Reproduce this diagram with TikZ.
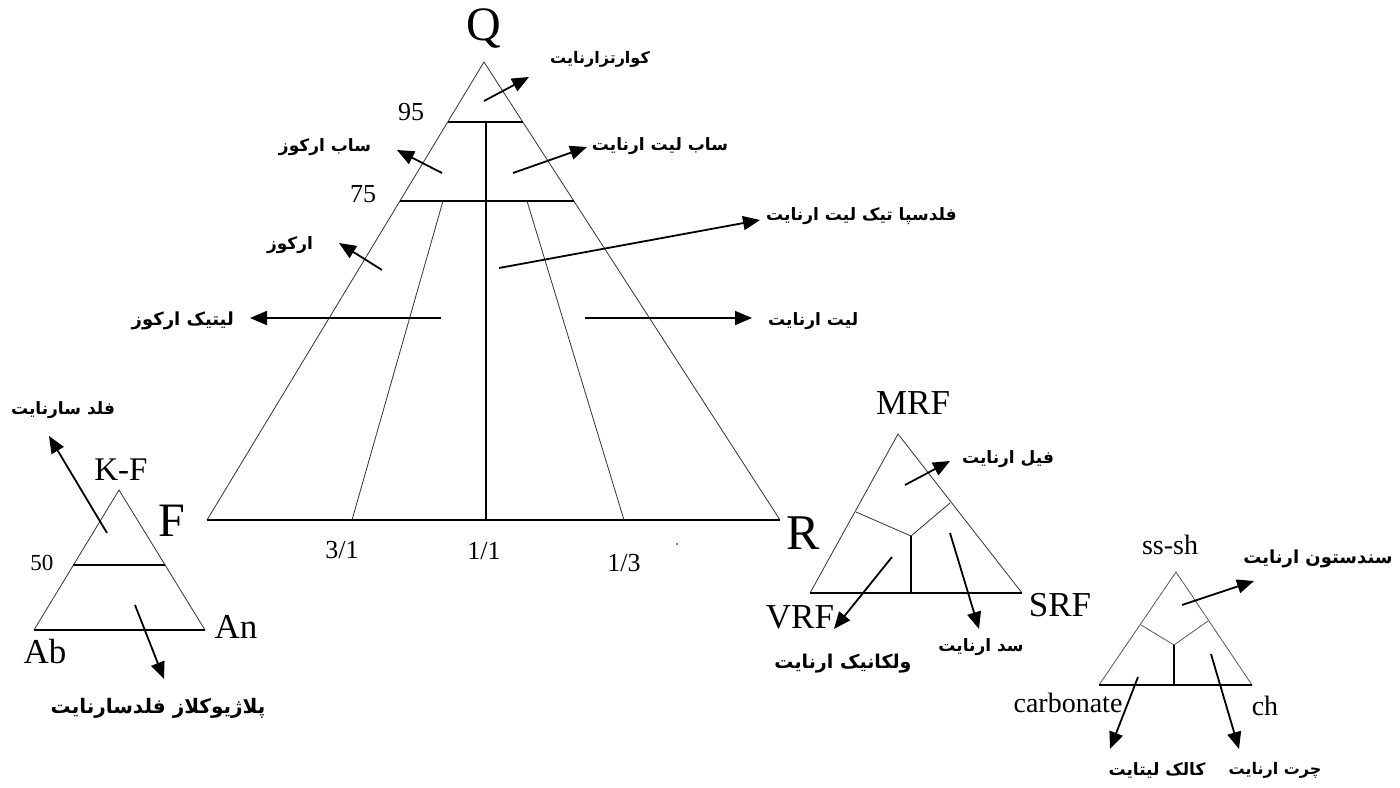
\documentclass[tikz,border=0pt]{standalone}
\usepackage{fontspec}
\setmainfont{Liberation Serif}
\newfontfamily\fafont[Script=Arabic]{DejaVu Sans}
\TeXXeTstate=1
\usetikzlibrary{arrows.meta,calc}
\tikzset{
  side/.style={line width=0.8pt, draw=black!80},
  bar/.style={line width=1.4pt, draw=black},
  arr/.style={line width=1.8pt, -{Triangle[length=17pt,width=14pt]}},
  falbl/.style={inner sep=0pt, font=\fafont\bfseries\fontsize{17}{19}\selectfont},
  falblsize/.style={font=\fafont\bfseries\fontsize{#1}{#1}\selectfont},
  biglbl/.style={inner sep=0pt, font=\fontsize{48}{50}\selectfont},
  midlbl/.style={inner sep=0pt, font=\fontsize{35}{37}\selectfont},
  numlbl/.style={inner sep=0pt, font=\fontsize{26}{28}\selectfont},
  smllbl/.style={inner sep=0pt, font=\fontsize{28}{30}\selectfont},
}
\begin{document}
\begin{tikzpicture}[x=1pt,y=-1pt]
\useasboundingbox (0,0) rectangle (1400,787);
\fill[white] (0,0) rectangle (1400,787);
% ---------- main QFR triangle ----------
\coordinate (Qa) at (484,62);
\coordinate (Fc) at (207,520);
\coordinate (Rc) at (780,520);
\coordinate (l95) at ($(Qa)!0.131!(Fc)$);
\coordinate (r95) at ($(Qa)!0.131!(Rc)$);
\coordinate (l75) at ($(Qa)!0.3035!(Fc)$);
\coordinate (r75) at ($(Qa)!0.3035!(Rc)$);
\coordinate (v95) at (486,122);
\coordinate (vb) at (486,520);
\coordinate (il75) at (443,201);
\coordinate (ilb) at (352,520);
\coordinate (ir75) at (527,201);
\coordinate (irb) at (624,520);
\draw[side] (Fc) -- (Qa) -- (Rc);
\draw[bar] (Fc) -- (Rc);
\draw[bar] (l95) -- (r95);
\draw[bar] (l75) -- (r75);
\draw[bar] (v95) -- (vb);
\draw[side] (il75) -- (ilb);
\draw[side] (ir75) -- (irb);
\fill (677,544) circle (0.9);
\node[biglbl] (Qlbl) at (484,28) {Q};
\node[biglbl] (Flbl) at (172,521) {F};
\node[font=\fontsize{50}{52}\selectfont, inner sep=0pt] (Rlbl) at (803,533) {R};
\node[numlbl] (n95) at (411,112) {95};
\node[numlbl] (n75) at (363,194) {75};
\node[numlbl] (r31) at (342,550) {3/1};
\node[numlbl] (r11) at (484,551) {1/1};
\node[numlbl] (r13) at (624,563) {1/3};
% labels
\node[falbl, falblsize=16] (quartz) at (600,59) {\beginR کوارتزارنایت\endR};
\node[falbl] (subark) at (325,147) {\beginR ساب ارکوز\endR};
\node[falbl] (sublit) at (660,146) {\beginR ساب لیت ارنایت\endR};
\node[falbl, anchor=west] (feldlit) at (766,216) {\beginR فلدسپا تیک لیت ارنایت\endR};
\node[falbl] (arkose) at (290,245) {\beginR ارکوز\endR};
\node[falbl, falblsize=18, anchor=east] (litark) at (234,321) {\beginR لیتیک ارکوز\endR};
\node[falbl, anchor=west] (litaren) at (768,321) {\beginR لیت ارنایت\endR};
\coordinate (a1s) at (484,101); \coordinate (a1e) at (529,77);
\coordinate (a2s) at (442,173); \coordinate (a2e) at (397,150);
\coordinate (a3s) at (513,173); \coordinate (a3e) at (587,147);
\coordinate (a4s) at (499,268); \coordinate (a4e) at (760,220);
\coordinate (a5s) at (382,270); \coordinate (a5e) at (339,243);
\coordinate (a6s) at (441,318); \coordinate (a6e) at (250,318);
\coordinate (a7s) at (585,318); \coordinate (a7e) at (752,318);
\draw[arr] (a1s) -- (a1e);
\draw[arr] (a2s) -- (a2e);
\draw[arr] (a3s) -- (a3e);
\draw[arr] (a4s) -- (a4e);
\draw[arr] (a5s) -- (a5e);
\draw[arr] (a6s) -- (a6e);
\draw[arr] (a7s) -- (a7e);
% ---------- feldspar triangle ----------
\coordinate (KFa) at (119,490);
\coordinate (Abc) at (34,630);
\coordinate (Anc) at (205,630);
\coordinate (l50) at ($(KFa)!0.536!(Abc)$);
\coordinate (r50) at ($(KFa)!0.536!(Anc)$);
\draw[side] (Abc) -- (KFa) -- (Anc);
\draw[bar] (Abc) -- (Anc);
\draw[bar] (l50) -- (r50);
\node[font=\fontsize{33}{35}\selectfont, inner sep=0pt] (KFlbl) at (121,470) {K-F};
\node[midlbl] (Ablbl) at (45,652) {Ab};
\node[midlbl] (Anlbl) at (236,627) {An};
\node[inner sep=0pt, font=\fontsize{23}{25}\selectfont] (n50) at (42,563) {50};
\node[falbl] (feldsar) at (63,410) {\beginR فلد سارنایت\endR};
\node[falbl, falblsize=20] (plag) at (158,708) {\beginR پلاژیوکلاز فلدسارنایت\endR};
\coordinate (b1s) at (107,533); \coordinate (b1e) at (49,436);
\coordinate (b2s) at (135,605); \coordinate (b2e) at (164,679);
\draw[arr] (b1s) -- (b1e);
\draw[arr] (b2s) -- (b2e);
% ---------- rock fragment triangle ----------
\coordinate (MRFa) at (898,434);
\coordinate (VRFc) at (810,593);
\coordinate (SRFc) at (1022,593);
\coordinate (m1) at (856,512);
\coordinate (mc) at (911,536);
\coordinate (m2) at (950,503);
\coordinate (mb) at (911,593);
\draw[side] (VRFc) -- (MRFa) -- (SRFc);
\draw[bar] (VRFc) -- (SRFc);
\draw[side] (m1) -- (mc) -- (m2);
\draw[bar] (mc) -- (mb);
\node[midlbl] (MRFlbl) at (913,403) {MRF};
\node[midlbl] (VRFlbl) at (800,617) {VRF};
\node[midlbl] (SRFlbl) at (1060,605) {SRF};
\node[falbl] (phyl) at (1008,459) {\beginR فیل ارنایت\endR};
\node[falbl, falblsize=19] (volc) at (843,664) {\beginR ولکانیک ارنایت\endR};
\node[falbl] (sed) at (981,647) {\beginR سد ارنایت\endR};
\coordinate (c1s) at (905,485); \coordinate (c1e) at (950,461);
\coordinate (c2s) at (892,557); \coordinate (c2e) at (834,629);
\coordinate (c3s) at (950,533); \coordinate (c3e) at (979,629);
\draw[arr] (c1s) -- (c1e);
\draw[arr] (c2s) -- (c2e);
\draw[arr] (c3s) -- (c3e);
% ---------- sedimentary fragment triangle ----------
\coordinate (SSa) at (1176,572);
\coordinate (Cbc) at (1099,685);
\coordinate (Chc) at (1252,685);
\coordinate (s1) at (1141,625);
\coordinate (sc) at (1174,645);
\coordinate (s2) at (1208,621);
\coordinate (sb) at (1174,685);
\draw[side, draw=black!65] (Cbc) -- (SSa) -- (Chc);
\draw[bar] (Cbc) -- (Chc);
\draw[side, draw=black!65] (s1) -- (sc) -- (s2);
\draw[bar] (sc) -- (sb);
\node[smllbl] (SSlbl) at (1170,545) {ss-sh};
\node[smllbl] (Cblbl) at (1068,703) {carbonate};
\node[smllbl] (Chlbl) at (1265,706) {ch};
\node[falbl, falblsize=18] (sandst) at (1318,559) {\beginR سندستون ارنایت\endR};
\node[falbl] (calc) at (1157,770) {\beginR کالک لیتایت\endR};
\node[falbl, falblsize=16] (chert) at (1275,770) {\beginR چرت ارنایت\endR};
\coordinate (d1s) at (1182,605); \coordinate (d1e) at (1254,581);
\coordinate (d2s) at (1138,677); \coordinate (d2e) at (1110,749);
\coordinate (d3s) at (1211,654); \coordinate (d3e) at (1239,749);
\draw[arr] (d1s) -- (d1e);
\draw[arr] (d2s) -- (d2e);
\draw[arr] (d3s) -- (d3e);
\end{tikzpicture}
\end{document}
